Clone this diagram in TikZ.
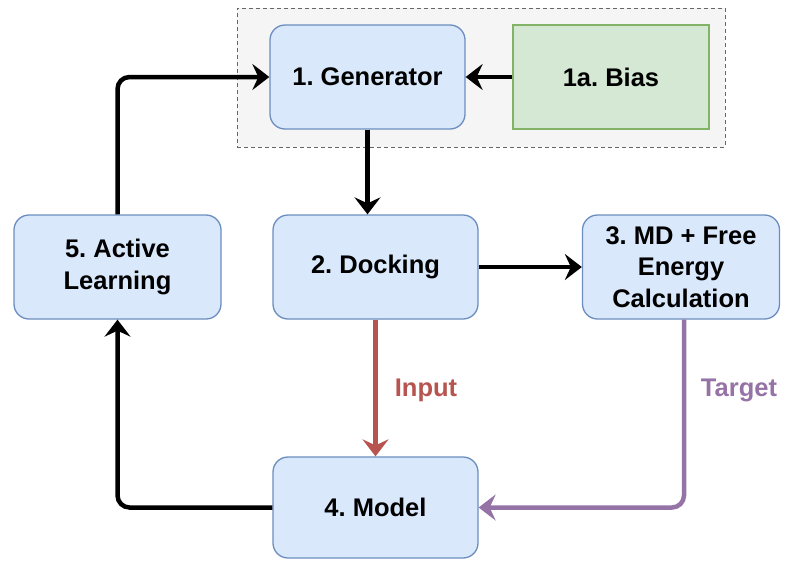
\documentclass[tikz,border=0pt]{standalone}
\usepackage{fontspec}
\setmainfont{Liberation Sans}
\usetikzlibrary{arrows.meta}
\frenchspacing
\definecolor{stepfill}{HTML}{DAE8FC}
\definecolor{stepline}{HTML}{6C8EBF}
\definecolor{biasfill}{HTML}{D5E8D4}
\definecolor{biasline}{HTML}{82B366}
\definecolor{groupfill}{HTML}{F5F5F5}
\definecolor{groupline}{HTML}{666666}
\definecolor{inputcol}{HTML}{B85450}
\definecolor{targetcol}{HTML}{9673A6}
\tikzset{
  stepbox/.style={draw=stepline, fill=stepfill, line width=1.3pt, rounded corners=15pt,
    inner sep=0pt, align=center, font=\bfseries\fontsize{25.5}{31.5}\selectfont},
  biasbox/.style={draw=biasline, fill=biasfill, line width=1.3pt,
    inner sep=0pt, align=center, font=\bfseries\fontsize{25.5}{31.5}\selectfont},
  groupbox/.style={draw=groupline, fill=groupfill, line width=0.8pt, dash pattern=on 4pt off 3pt, inner sep=0pt},
  conn/.style={line width=4.5pt, rounded corners=12pt, -{Stealth[length=17pt,width=26pt,inset=6pt]}},
  edgelabel/.style={font=\bfseries\fontsize{25.5}{31.5}\selectfont, inner sep=0pt}
}
\begin{document}
\begin{tikzpicture}[x=1pt,y=-1pt]
\useasboundingbox (0,0) rectangle (785,560);
% dashed group around generator and bias
\node[groupbox, minimum width=488pt, minimum height=139pt] (grp) at (481,77.5) {};
% process steps
\node[stepbox, minimum width=195pt, minimum height=104pt] (gen) at (367.5,77) {1. Generator};
\node[biasbox, minimum width=196pt, minimum height=104pt] (bias) at (611,77) {1a. Bias};
\node[stepbox, minimum width=207pt, minimum height=104pt] (al) at (117.5,267) {5. Active\\Learning};
\node[stepbox, minimum width=205pt, minimum height=104pt] (dock) at (375.5,267) {2. Docking};
\node[stepbox, minimum width=197pt, minimum height=104pt] (md) at (681,267) {3. MD + Free\\Energy\\Calculation};
\node[stepbox, minimum width=205pt, minimum height=101pt] (model) at (375.5,507.5) {4. Model};
% connectors
\draw[conn] (al.north) |- (gen.west);
\draw[conn] (bias.west) -- (gen.east);
\draw[conn] (gen.south) -- (gen.south |- dock.north);
\draw[conn] (dock.east) -- (md.west);
\draw[conn, draw=inputcol] (dock.south) -- (model.north);
\draw[conn, draw=targetcol] ([xshift=3pt]md.south) |- (model.east);
\draw[conn] (model.west) -| (al.south);
% edge labels
\node[edgelabel, text=inputcol] (inlbl) at (426,390) {Input};
\node[edgelabel, text=targetcol] (tglbl) at (739,390) {Target};
\end{tikzpicture}
\end{document}
